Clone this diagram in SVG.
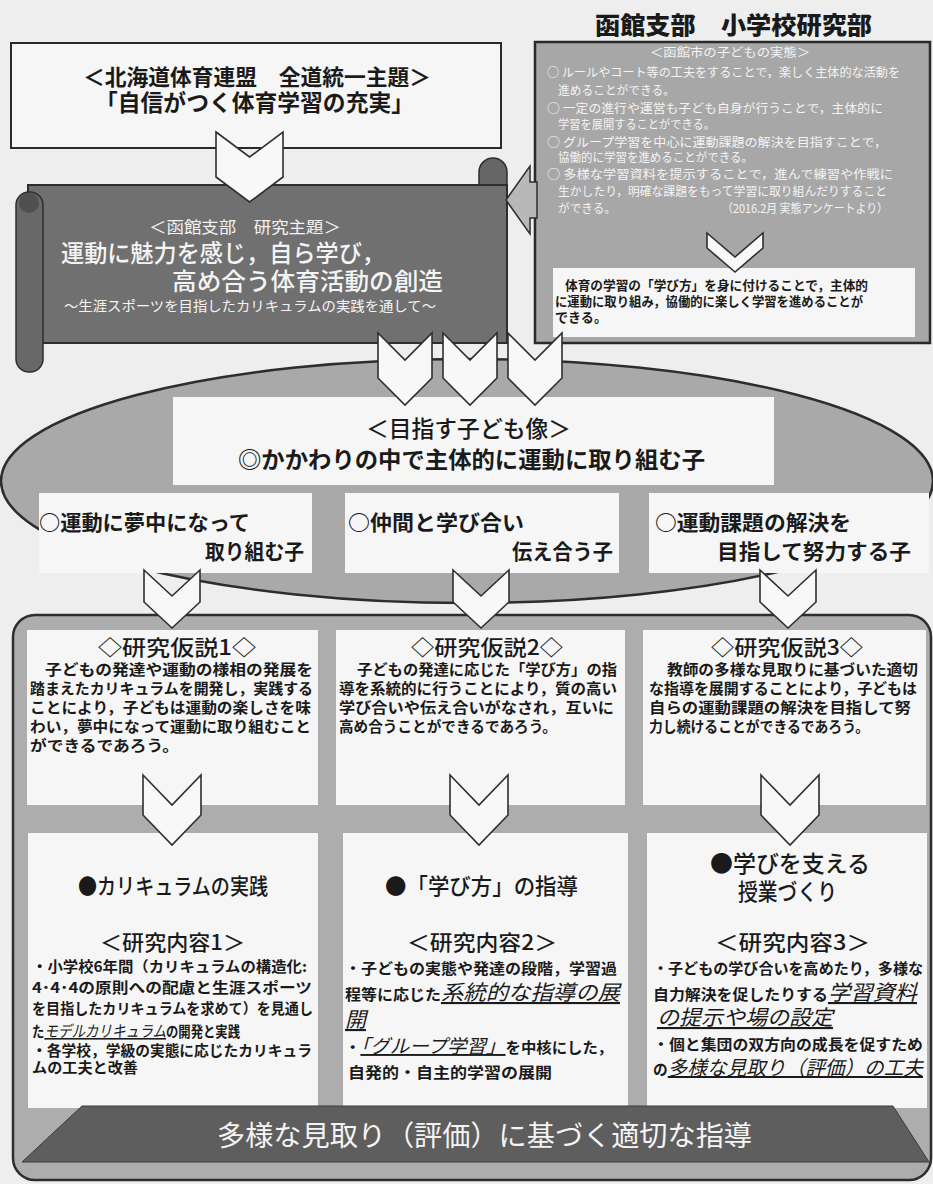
<svg xmlns="http://www.w3.org/2000/svg" width="933" height="1184" viewBox="0 0 933 1184">
<style>
text { font-family: "Noto Sans CJK JP", "Noto Sans", sans-serif; fill: #1a1a1a; }
.b { font-weight: 700; }
.m { font-weight: 500; }
.w { fill: #f4f4f4; }
.box { fill: #f6f6f6; }
.chev { fill: #f8f8f8; stroke: #2e2e2e; stroke-width: 1.6; stroke-linejoin: miter; }
.ui { font-style: italic; text-decoration: underline; }
</style>
<rect x="0" y="0" width="933" height="1184" fill="#eeeeee"/>

<g id="title">
  <text x="595" y="34" font-size="24" font-weight="900" textLength="277" lengthAdjust="spacingAndGlyphs">函館支部　小学校研究部</text>
</g>

<g id="node-zendo-theme">
  <rect x="11" y="43" width="490" height="105" fill="#f6f6f6" stroke="#2a2a2a" stroke-width="2"/>
  <text x="83" y="85" font-size="22" class="b" textLength="348" lengthAdjust="spacingAndGlyphs">＜北海道体育連盟　全道統一主題＞</text>
  <text x="95" y="111" font-size="23" class="b" textLength="319" lengthAdjust="spacingAndGlyphs">「自信がつく体育学習の充実」</text>
</g>

<g id="node-kodomo-jittai">
  <rect x="535" y="42" width="395" height="301" fill="#a7a7a7" stroke="#2a2a2a" stroke-width="2.5"/>
  <g font-size="12">
    <text class="w" x="650" y="57" textLength="160" lengthAdjust="spacingAndGlyphs">＜函館市の子どもの実態＞</text>
    <text class="w" x="547" y="77" textLength="353" lengthAdjust="spacingAndGlyphs">○ ルールやコート等の工夫をすることで，楽しく主体的な活動を</text>
    <text class="w" x="558" y="95" textLength="117" lengthAdjust="spacingAndGlyphs">進めることができる。</text>
    <text class="w" x="547" y="113" textLength="336" lengthAdjust="spacingAndGlyphs">○ 一定の進行や運営も子ども自身が行うことで，主体的に</text>
    <text class="w" x="558" y="129" textLength="157" lengthAdjust="spacingAndGlyphs">学習を展開することができる。</text>
    <text class="w" x="547" y="147" textLength="340" lengthAdjust="spacingAndGlyphs">○ グループ学習を中心に運動課題の解決を目指すことで，</text>
    <text class="w" x="558" y="162" textLength="195" lengthAdjust="spacingAndGlyphs">協働的に学習を進めることができる。</text>
    <text class="w" x="547" y="179" textLength="346" lengthAdjust="spacingAndGlyphs">○ 多様な学習資料を提示することで，進んで練習や作戦に</text>
    <text class="w" x="558" y="196" textLength="329" lengthAdjust="spacingAndGlyphs">生かしたり，明確な課題をもって学習に取り組んだりすること</text>
    <text class="w" x="558" y="213" textLength="58" lengthAdjust="spacingAndGlyphs">ができる。</text>
    <text class="w" x="722" y="213" textLength="166" lengthAdjust="spacingAndGlyphs">（2016.2月 実態アンケートより）</text>
  </g>
  <rect x="553" y="268" width="362" height="69" fill="#f6f6f6"/>
  <g font-size="13" class="b">
    <text x="565" y="290" textLength="303" lengthAdjust="spacingAndGlyphs">体育の学習の「学び方」を身に付けることで，主体的</text>
    <text x="555" y="306" textLength="308" lengthAdjust="spacingAndGlyphs">に運動に取り組み，協働的に楽しく学習を進めることが</text>
    <text x="555" y="322" textLength="52" lengthAdjust="spacingAndGlyphs">できる。</text>
  </g>
</g>

<g id="node-kenkyu-shudai">
  <path d="M479,190 V172 A14,14 0 0 1 507,172 V190 Z" fill="#666666" stroke="#2e2e2e" stroke-width="1.5"/>
  <rect x="28" y="185" width="479" height="158" fill="#707070" stroke="#2e2e2e" stroke-width="2"/>
  <rect x="16" y="192" width="27" height="180" rx="13" fill="#686868" stroke="#2e2e2e" stroke-width="1.5"/>
  <circle cx="29" cy="203" r="10" fill="#505050"/>
  <text class="w" x="149" y="233" font-size="16" textLength="192" lengthAdjust="spacingAndGlyphs">＜函館支部　研究主題＞</text>
  <text class="w m" x="61" y="262" font-size="24" textLength="324" lengthAdjust="spacingAndGlyphs">運動に魅力を感じ，自ら学び，</text>
  <text class="w m" x="172" y="290" font-size="24" textLength="271" lengthAdjust="spacingAndGlyphs">高め合う体育活動の創造</text>
  <text class="w" x="64" y="311" font-size="14" textLength="372" lengthAdjust="spacingAndGlyphs">～生涯スポーツを目指したカリキュラムの実践を通して～</text>
</g>

<g id="node-mezasu-kodomo">
  <ellipse cx="467" cy="481" rx="466" ry="122" fill="#a9a9a9" stroke="#2d2d2d" stroke-width="2.5"/>
  <rect class="box" x="173" y="397" width="601" height="88"/>
  <text x="366" y="437" font-size="23" class="m" textLength="205" lengthAdjust="spacingAndGlyphs">＜目指す子ども像＞</text>
  <text x="238" y="468" font-size="23" class="b" textLength="467" lengthAdjust="spacingAndGlyphs">◎かかわりの中で主体的に運動に取り組む子</text>
</g>

<g id="node-kodomo-1">
  <rect class="box" x="39" y="493" width="273" height="80"/>
  <text x="39" y="530" font-size="21" class="b" textLength="211" lengthAdjust="spacingAndGlyphs">○運動に夢中になって</text>
  <text x="205" y="559" font-size="21" class="b" textLength="99" lengthAdjust="spacingAndGlyphs">取り組む子</text>
</g>
<g id="node-kodomo-2">
  <rect class="box" x="345" y="493" width="274" height="80"/>
  <text x="348" y="530" font-size="21" class="b" textLength="176" lengthAdjust="spacingAndGlyphs">○仲間と学び合い</text>
  <text x="512" y="559" font-size="21" class="b" textLength="101" lengthAdjust="spacingAndGlyphs">伝え合う子</text>
</g>
<g id="node-kodomo-3">
  <rect class="box" x="649" y="493" width="280" height="80"/>
  <text x="655" y="530" font-size="21" class="b" textLength="196" lengthAdjust="spacingAndGlyphs">○運動課題の解決を</text>
  <text x="717" y="559" font-size="21" class="b" textLength="194" lengthAdjust="spacingAndGlyphs">目指して努力する子</text>
</g>

<g id="node-frame">
  <rect x="13" y="615" width="918" height="565" rx="22" fill="#adadad" stroke="#2e2e2e" stroke-width="2.5"/>
</g>

<g id="node-kasetsu-1">
  <rect class="box" x="27" y="630" width="291" height="175"/>
  <text x="98" y="655" font-size="21" class="m" textLength="158" lengthAdjust="spacingAndGlyphs">◇研究仮説1◇</text>
  <g font-size="15" class="b">
    <text x="45" y="675" textLength="268" lengthAdjust="spacingAndGlyphs">子どもの発達や運動の様相の発展を</text>
    <text x="30" y="694" textLength="283" lengthAdjust="spacingAndGlyphs">踏まえたカリキュラムを開発し，実践する</text>
    <text x="30" y="713" textLength="281" lengthAdjust="spacingAndGlyphs">ことにより，子どもは運動の楽しさを味</text>
    <text x="30" y="732" textLength="281" lengthAdjust="spacingAndGlyphs">わい，夢中になって運動に取り組むこと</text>
    <text x="30" y="751" textLength="149" lengthAdjust="spacingAndGlyphs">ができるであろう。</text>
  </g>
</g>
<g id="node-kasetsu-2">
  <rect class="box" x="336" y="630" width="289" height="175"/>
  <text x="411" y="655" font-size="21" class="m" textLength="152" lengthAdjust="spacingAndGlyphs">◇研究仮説2◇</text>
  <g font-size="15" class="b">
    <text x="357" y="675" textLength="260" lengthAdjust="spacingAndGlyphs">子どもの発達に応じた「学び方」の指</text>
    <text x="339" y="694" textLength="278" lengthAdjust="spacingAndGlyphs">導を系統的に行うことにより，質の高い</text>
    <text x="339" y="713" textLength="275" lengthAdjust="spacingAndGlyphs">学び合いや伝え合いがなされ，互いに</text>
    <text x="339" y="732" textLength="218" lengthAdjust="spacingAndGlyphs">高め合うことができるであろう。</text>
  </g>
</g>
<g id="node-kasetsu-3">
  <rect class="box" x="643" y="630" width="283" height="175"/>
  <text x="711" y="655" font-size="21" class="m" textLength="152" lengthAdjust="spacingAndGlyphs">◇研究仮説3◇</text>
  <g font-size="15" class="b">
    <text x="667" y="675" textLength="251" lengthAdjust="spacingAndGlyphs">教師の多様な見取りに基づいた適切</text>
    <text x="649" y="694" textLength="268" lengthAdjust="spacingAndGlyphs">な指導を展開することにより，子どもは</text>
    <text x="649" y="713" textLength="262" lengthAdjust="spacingAndGlyphs">自らの運動課題の解決を目指して努</text>
    <text x="649" y="732" textLength="220" lengthAdjust="spacingAndGlyphs">力し続けることができるであろう。</text>
  </g>
</g>

<g id="node-naiyo-1">
  <rect class="box" x="28" y="833" width="290" height="275"/>
  <text x="78" y="894" font-size="22" class="m" textLength="190" lengthAdjust="spacingAndGlyphs">●カリキュラムの実践</text>
  <text x="100" y="950" font-size="21" class="m" textLength="145" lengthAdjust="spacingAndGlyphs">＜研究内容1＞</text>
  <g font-size="14.5" class="b">
    <text x="32" y="972" textLength="275" lengthAdjust="spacingAndGlyphs">・小学校6年間（カリキュラムの構造化:</text>
    <text x="32" y="993" textLength="280" lengthAdjust="spacingAndGlyphs">4･4･4の原則への配慮と生涯スポーツ</text>
    <text x="32" y="1014" textLength="281" lengthAdjust="spacingAndGlyphs">を目指したカリキュラムを求めて）を見通し</text>
    <text x="32" y="1037" textLength="208" lengthAdjust="spacingAndGlyphs">た<tspan class="ui" font-size="16" font-weight="400">モデルカリキュラム</tspan>の開発と実践</text>
    <text x="32" y="1056" textLength="280" lengthAdjust="spacingAndGlyphs">・各学校，学級の実態に応じたカリキュラ</text>
    <text x="32" y="1073" textLength="106" lengthAdjust="spacingAndGlyphs">ムの工夫と改善</text>
  </g>
</g>
<g id="node-naiyo-2">
  <rect class="box" x="343" y="833" width="285" height="275"/>
  <text x="385" y="894" font-size="22" class="m" textLength="193" lengthAdjust="spacingAndGlyphs">●「学び方」の指導</text>
  <text x="407" y="950" font-size="21" class="m" textLength="150" lengthAdjust="spacingAndGlyphs">＜研究内容2＞</text>
  <g font-size="15" class="b">
    <text x="345" y="974" textLength="272" lengthAdjust="spacingAndGlyphs">・子どもの実態や発達の段階，学習過</text>
    <text x="345" y="1000" textLength="275" lengthAdjust="spacingAndGlyphs">程等に応じた<tspan class="ui" font-size="21" font-weight="400">系統的な指導の展</tspan></text>
    <text x="345" y="1027" font-size="21" font-weight="400"><tspan class="ui">開</tspan></text>
    <text x="345" y="1053" textLength="268" lengthAdjust="spacingAndGlyphs">・<tspan class="ui" font-size="19" font-weight="400">「グループ学習」</tspan>を中核にした，</text>
    <text x="348" y="1078" textLength="204" lengthAdjust="spacingAndGlyphs">自発的・自主的学習の展開</text>
  </g>
</g>
<g id="node-naiyo-3">
  <rect class="box" x="647" y="833" width="280" height="275"/>
  <text x="710" y="872" font-size="23" class="m" textLength="160" lengthAdjust="spacingAndGlyphs">●学びを支える</text>
  <text x="738" y="900" font-size="23" class="m" textLength="99" lengthAdjust="spacingAndGlyphs">授業づくり</text>
  <text x="715" y="950" font-size="21" class="m" textLength="155" lengthAdjust="spacingAndGlyphs">＜研究内容3＞</text>
  <g font-size="15" class="b">
    <text x="653" y="974" textLength="270" lengthAdjust="spacingAndGlyphs">・子どもの学び合いを高めたり，多様な</text>
    <text x="653" y="1000" textLength="264" lengthAdjust="spacingAndGlyphs">自力解決を促したりする<tspan class="ui" font-size="21" font-weight="400">学習資料</tspan></text>
    <text x="657" y="1025" font-size="21" font-weight="400" textLength="176" lengthAdjust="spacingAndGlyphs"><tspan class="ui">の提示や場の設定</tspan></text>
    <text x="653" y="1050" textLength="270" lengthAdjust="spacingAndGlyphs">・個と集団の双方向の成長を促すため</text>
    <text x="653" y="1075" textLength="270" lengthAdjust="spacingAndGlyphs">の<tspan class="ui" font-size="20" font-weight="400">多様な見取り（評価）の工夫</tspan></text>
  </g>
</g>

<g id="node-banner">
  <polygon points="82,1106 893,1106 929,1162 22,1162" fill="#5e5e5e" stroke="#3a3a3a" stroke-width="1"/>
  <text class="w" x="217" y="1146" font-size="28" textLength="535" lengthAdjust="spacingAndGlyphs">多様な見取り（評価）に基づく適切な指導</text>
</g>

<g id="connectors">
  <polygon class="chev" points="216,132 249.5,157 283,132 283,177 249.5,202 216,177"/>
  <polygon points="506,200 530,166 530,182 537,182 537,218 530,218 530,234" fill="#b8b8b8" stroke="#2e2e2e" stroke-width="1.5"/>
  <polygon class="chev" points="707,233 735,257 763,233 763,248 735,272 707,248"/>
  <polygon class="chev" points="378,333 405,360 432,333 432,378 405,405 378,378"/>
  <polygon class="chev" points="443,333 470,360 497,333 497,378 470,405 443,378"/>
  <polygon class="chev" points="508,333 535,360 562,333 562,378 535,405 508,378"/>
  <polygon class="chev" points="144,570 172,596 200,570 200,602 172,628 144,602"/>
  <polygon class="chev" points="453,570 481,596 509,570 509,602 481,628 453,602"/>
  <polygon class="chev" points="760,570 788,596 816,570 816,602 788,628 760,602"/>
  <polygon class="chev" points="143,775 172,805 201,775 201,815 172,845 143,815"/>
  <polygon class="chev" points="450,775 479,805 508,775 508,815 479,845 450,815"/>
  <polygon class="chev" points="761,775 790,805 819,775 819,815 790,845 761,815"/>
</g>
</svg>
